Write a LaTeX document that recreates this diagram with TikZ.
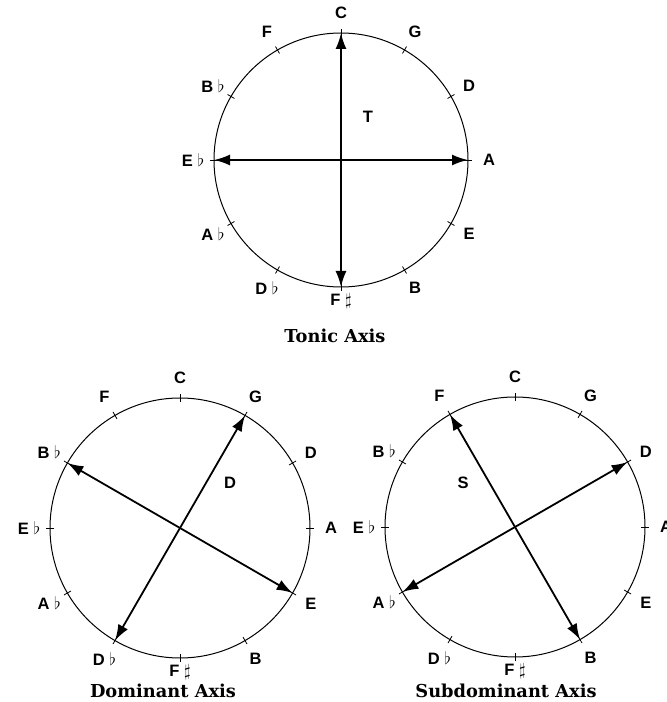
\documentclass[tikz,border=0pt]{standalone}
\usepackage{amsmath,amssymb}
\usepackage{fontspec}
\setmainfont{Liberation Sans}
\newfontfamily\capfont{DejaVu Serif}
\usepackage{tikz}
\usetikzlibrary{arrows.meta}
\tikzset{
  wheel/.style   ={line width=1pt, black},
  wtick/.style   ={line width=0.8pt, black},
  notelbl/.style ={inner sep=0pt, font=\fontsize{16.5}{18}\selectfont\bfseries},
  axislbl/.style ={inner sep=0pt, font=\fontsize{16.5}{18}\selectfont\bfseries},
  captionlbl/.style={inner sep=0pt, font=\capfont\fontsize{17.8}{20}\selectfont\bfseries},
  axisarrow/.style={{Latex[length=16pt,width=11pt]}-{Latex[length=16pt,width=11pt]},
                    line width=1.8pt, black},
}

\begin{document}
\begin{tikzpicture}[x=1pt, y=1pt]
  \useasboundingbox (0,0) rectangle (667,702);
  % three wheels: tonic, dominant, subdominant
  \foreach \w/\cx/\cy/\r in {t/341/542/127, d/180/174/130, s/515/175/130} {
    \begin{scope}[shift={(\cx,\cy)}]
      \coordinate (\w-o) at (0,0);
      \draw[wheel] (\w-o) circle (\r);
      \foreach \n/\a/\g/\txt in {C/90/20/C, G/60/21/G, D/30/21/D, A/0/21/A,
                                 E/-30/21/E, B/-60/21/B, Fs/-90/14/{F\;$\sharp$},
                                 Db/-120/21/{D\;$\flat$}, Ab/-150/21/{A\;$\flat$},
                                 Eb/180/21/{E\;$\flat$}, Bb/150/21/{B\;$\flat$},
                                 F/120/21/F} {
        \coordinate (\w-\n) at (\a:\r);
        \draw[wtick] (\a:{\r-4}) -- (\a:{\r+4});
        \node[notelbl] (\w-l\n) at (\a:{\r+\g}) {\txt};
      }
    \end{scope}
  }
  % tonic axis
  \draw[axisarrow] (t-C) -- (t-Fs);
  \draw[axisarrow] (t-Eb) -- (t-A);
  \node[axislbl] (tT) at (368,585) {T};
  \node[captionlbl] (tcap) at (335,366) {Tonic Axis};
  % dominant axis
  \draw[axisarrow] (d-G) -- (d-Db);
  \draw[axisarrow] (d-Bb) -- (d-E);
  \node[axislbl] (dD) at (230,219) {D};
  \node[captionlbl] (dcap) at (163,11) {Dominant Axis};
  % subdominant axis
  \draw[axisarrow] (s-F) -- (s-B);
  \draw[axisarrow] (s-D) -- (s-Ab);
  \node[axislbl] (sS) at (463,219) {S};
  \node[captionlbl] (scap) at (506,11) {Subdominant Axis};
\end{tikzpicture}
\end{document}
